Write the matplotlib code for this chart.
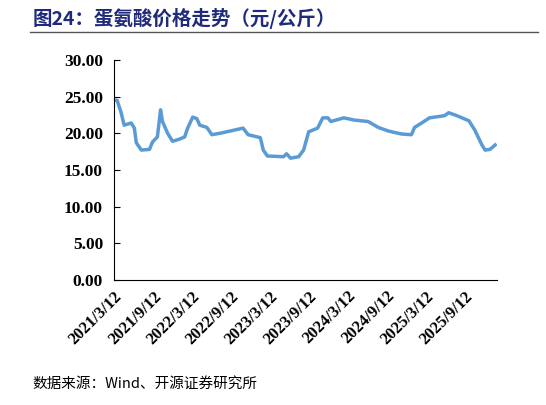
import matplotlib
matplotlib.use('Agg')
import matplotlib.pyplot as plt
import pandas as pd

dates = ['2021-03-12', '2021-03-26', '2021-04-14', '2021-04-28', '2021-05-31', '2021-06-15',
         '2021-06-24', '2021-07-18', '2021-08-25', '2021-09-08', '2021-10-01', '2021-10-16',
         '2021-10-25', '2021-11-18', '2021-12-11', '2022-01-13', '2022-02-06', '2022-02-20',
         '2022-03-16', '2022-04-04', '2022-04-18', '2022-05-21', '2022-06-14', '2022-07-22',
         '2022-09-07', '2022-11-07', '2022-12-01', '2023-01-27', '2023-02-10', '2023-03-01',
         '2023-05-16', '2023-05-30', '2023-06-18', '2023-07-26', '2023-08-18', '2023-09-11',
         '2023-10-23', '2023-11-16', '2023-12-10', '2023-12-24', '2024-02-23', '2024-04-11',
         '2024-06-16', '2024-08-02', '2024-09-19', '2024-11-19', '2025-01-05', '2025-01-20',
         '2025-02-22', '2025-03-31', '2025-06-10', '2025-06-29', '2025-08-06', '2025-10-02',
         '2025-10-30', '2025-12-02', '2025-12-17', '2026-01-09', '2026-02-02']
prices = [24.5, 24.5, 22.8, 21.1, 21.4, 20.7,
          18.7, 17.7, 17.8, 18.8, 19.5, 23.2,
          21.6, 20.0, 18.9, 19.2, 19.5, 20.7,
          22.2, 22.0, 21.1, 20.8, 19.8, 20.0,
          20.3, 20.7, 19.8, 19.4, 17.7, 16.9,
          16.8, 17.2, 16.6, 16.8, 17.7, 20.2,
          20.7, 22.1, 22.1, 21.6, 22.1, 21.8,
          21.6, 20.8, 20.3, 19.9, 19.8, 20.8,
          21.4, 22.1, 22.4, 22.8, 22.4, 21.7,
          20.4, 18.4, 17.7, 17.8, 18.4]
tick_dates = ['2021-03-12', '2021-09-12', '2022-03-12', '2022-09-12', '2023-03-12',
              '2023-09-12', '2024-03-12', '2024-09-12', '2025-03-12', '2025-09-12']
tick_labels = ['2021/3/12', '2021/9/12', '2022/3/12', '2022/9/12', '2023/3/12',
               '2023/9/12', '2024/3/12', '2024/9/12', '2025/3/12', '2025/9/12']
yticks = [0, 5, 10, 15, 20, 25, 30]

cjk = ['Noto Sans CJK SC', 'DejaVu Sans']
serif = 'Liberation Serif'

fig = plt.figure(figsize=(5.46, 4.05), dpi=100)
ax = fig.add_axes([0.209, 0.309, 0.701, 0.543])

ax.plot(pd.to_datetime(dates), prices, color='#5b9bd5', linewidth=2.5)

ax.set_ylim(0, 30)
ax.set_yticks(yticks)
ax.set_yticklabels([f'{v:.2f}' for v in yticks], fontfamily=serif, fontweight='bold', fontsize=12.5)
ax.set_xlim(pd.Timestamp('2021-03-12'), pd.Timestamp('2026-02-10'))
ax.set_xticks(pd.to_datetime(tick_dates))
ax.set_xticklabels(tick_labels, rotation=45, ha='right', rotation_mode='anchor',
                   fontfamily=serif, fontweight='bold', fontsize=12)
ax.tick_params(axis='y', direction='in', length=4, pad=8)
ax.tick_params(axis='x', length=0, pad=6)
for s in ['top', 'right']:
    ax.spines[s].set_visible(False)

fig.text(0.06, 0.955, '图24：蛋氨酸价格走势（元/公斤）', color='#1f2a7a', fontsize=14,
         fontweight='bold', family=cjk, va='center')
fig.add_artist(plt.Line2D([0.055, 0.985], [0.922, 0.922], color='#555555', linewidth=1))
fig.text(0.06, 0.052, '数据来源：Wind、开源证券研究所', fontsize=10.5, family=cjk, va='center')

fig.savefig('out.png', dpi=100)
